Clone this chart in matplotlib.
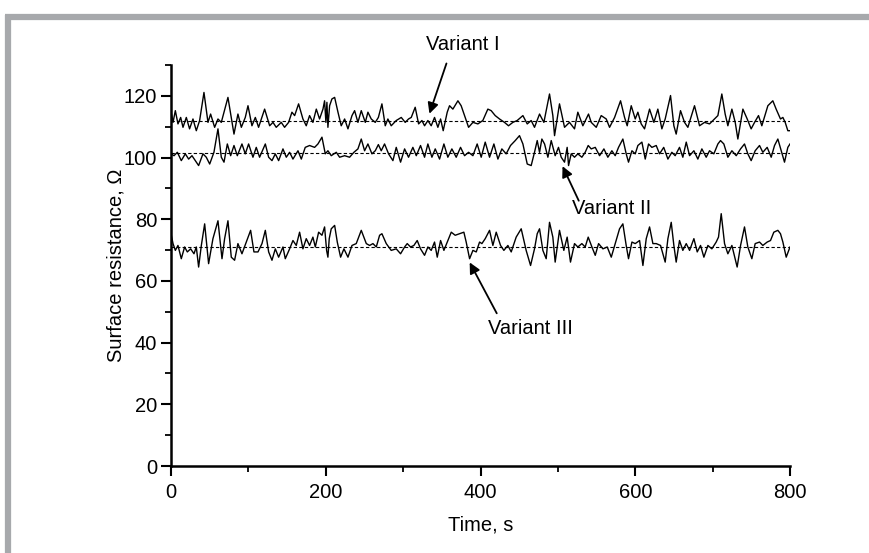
import numpy as np
import matplotlib
matplotlib.use("Agg")
import matplotlib.pyplot as plt
from matplotlib.lines import Line2D
from matplotlib.ticker import MultipleLocator

plt.rcParams['font.family'] = ['Liberation Sans', 'DejaVu Sans']

# ---- data (time s, resistance Ohm) ----
variant1 = [(0,115),(2.6,111.4),(5.6,115.2),(9,110.9),(12.5,113),(15.5,109.8),(19.8,113),(24,109.3),(28.4,112.5),(32.7,108.7),(37,112),(42.6,121.1),(47.8,111.4),(51.2,114.1),(56.4,109.8),(60.7,112.5),(65,111.4),(73.6,119.5),(81.4,107.6),(86.5,114.1),(90.9,109.8),(96,113),(99.5,116.8),(104.6,110.3),(109,113),(113.2,109.8),(121,115.7),(127.5,110.3),(131.8,111.4),(136,109.8),(142.5,111.4),(146.8,109.8),(152,111.4),(156.3,114.7),(159.8,113.6),(164.9,117.4),(170.5,112.5),(174.8,110.3),(179.1,113.6),(183.4,111.4),(187.8,115.7),(192,112.5),(196.4,115.7),(198.5,118.4),(200.2,111.4),(201.5,117.9),(202.8,109.8),(205,116.8),(208,119),(211.5,119.5),(215.8,114.7),(220,110.3),(224.4,112.5),(228.7,109.3),(233.9,113.6),(237.3,115.2),(241.6,111.4),(245.9,115.2),(251.1,111.4),(254.5,114.7),(258.8,112.5),(264,111.4),(268,113),(272.6,117.4),(276.9,110.3),(280.3,112.5),(284.6,110.3),(291.1,112),(297.6,113),(302.7,111.4),(307,112.5),(310.5,113),(315.6,116.3),(320,110.9),(324.3,112),(327.7,110.3),(332,112),(336.3,110.3),(340.6,113),(344.9,109.8),(348.4,112.5),(351.8,108.7),(357,114.7),(360,116.8),(364.3,115.7),(370.8,118.4),(375,116.8),(380.2,113),(384.6,109.8),(390.2,111.4),(396.6,110.9),(403,112),(409.5,115.7),(413.8,115.2),(419,113.6),(424.6,112.5),(431,111.4),(436.2,110.3),(441.8,111.4),(447.4,112),(454.8,113.6),(460.4,110.9),(465.5,112),(469.8,109.8),(476.3,114.1),(481.9,111.4),(489.2,120.6),(493.5,113.6),(495.7,107.1),(502.1,117.4),(508.6,109.8),(515,111.4),(521.5,109.3),(525.8,114.7),(532.3,110.3),(539.6,114.1),(543.1,111.4),(549.6,109.8),(556,113.6),(562.5,112.5),(566.8,109.8),(573.3,113),(581,118.4),(586.2,113),(589.6,110.3),(594.8,116.8),(600,112.5),(603.4,114.7),(607.7,110.9),(612,109.3),(618.5,115.7),(624.1,111.4),(629.2,115.7),(634.4,109.3),(638.7,112.5),(645.6,120.1),(649.9,110.3),(652.9,107.6),(658.5,115.2),(663.7,111.4),(668,109.8),(676.6,116.8),(683.1,110.3),(689.5,111.4),(696,110.9),(702.5,112.5),(706.8,113.6),(711.9,120.6),(716.2,114.1),(719.7,110.3),(724.9,115.7),(729.2,111.4),(732.6,106),(739.1,115.7),(744.7,112.5),(749.8,109.3),(754.2,111.4),(759.3,113.6),(763.6,110.3),(771.4,116.8),(777.8,118.4),(782.1,115.7),(787.7,112.5),(790.8,113),(793.8,111.4),(797.2,108.7),(800,108.7)]

variant2 = [(0,101.2),(3.9,100.6),(8.2,101.7),(13.3,99),(18.5,101.2),(22.8,99.5),(27.1,100.6),(31.4,99),(35.7,97.4),(41.3,101.2),(45.6,100.1),(50,97.9),(55.5,101.7),(60.7,109.3),(65,100.1),(68.5,98.5),(72.8,104.4),(77.1,100.6),(81.4,103.9),(85.7,100.6),(91.7,104.4),(96,101.2),(100.3,104.4),(105.9,100.1),(110.2,103.3),(114.5,100.1),(121.9,104.4),(126.2,100.1),(130.5,99),(134.8,101.2),(139.1,99),(144.7,102.8),(149,100.1),(153.3,101.7),(157.6,99.5),(164.1,102.2),(168.4,99.5),(173.5,103.3),(179.1,103.9),(185.6,103.3),(189.9,104.4),(195.1,106.6),(199.4,101.2),(202.8,102.2),(207.1,100.6),(213.6,101.7),(217.9,100.1),(224.4,100.6),(230.8,100.1),(236.4,101.7),(241.6,102.8),(245.9,106),(250.2,102.2),(254.5,104.4),(259.7,101.2),(264,102.2),(268,104.2),(271.7,102.2),(276,104.4),(281.2,101.2),(286.8,99),(291.1,103.3),(296.7,98.5),(301.9,102.8),(307,100.1),(312.6,103.3),(317,100.6),(322.5,103.9),(327.7,100.1),(332,104.4),(337.2,100.1),(341.5,102.8),(347.1,99.5),(352.7,104.4),(357.8,100.1),(363,102.8),(368.6,100.1),(374.2,103.3),(379.4,100.6),(384.6,101.7),(390.2,100.6),(395.7,104.4),(400.9,100.1),(406.1,105),(411.7,100.1),(417.3,104.4),(422.5,99.5),(427.6,102.8),(433.2,101.2),(438.8,103.9),(444.9,105.5),(450.4,107.1),(454.8,104.4),(460.4,97.9),(465.5,97.4),(469.8,101.7),(473.3,105.5),(476.3,101.7),(479.3,106),(482.8,104.4),(487.1,100.1),(491.4,105.5),(496.5,100.6),(500.8,103.3),(504.3,100.1),(508.6,98.5),(512,103.3),(513.8,97.4),(517.2,101.2),(521.5,100.1),(525.8,101.2),(531,100.1),(535.3,101.7),(539.2,103.9),(543.1,102.8),(548.3,103.3),(553.9,100.6),(559.5,102.8),(564.6,100.1),(569.8,102.2),(574.1,100.6),(578.4,103.3),(584,106),(588.3,101.2),(591.3,98.5),(595.7,102.2),(600,101.2),(603.4,103.9),(608.6,105),(612.9,99.5),(617.2,104.4),(621.5,103.3),(627.1,103.9),(631.4,101.2),(636.8,103.3),(642.2,99.5),(647.3,101.7),(651.6,100.6),(657.2,103.3),(661.5,100.1),(665.9,105),(670.2,100.6),(675.8,102.2),(680.9,99.5),(686.1,102.8),(691.7,100.1),(696,102.2),(701.6,101.2),(706.8,104.4),(710.2,105.5),(714.5,104.4),(719.7,100.1),(724.9,102.2),(730.5,100.6),(736.1,102.8),(741.2,104.4),(745.5,101.2),(749.8,99),(755,102.2),(760.6,103.9),(764.9,101.7),(770.5,103.3),(775.7,100.1),(780,103.9),(784.3,106),(788.6,102.2),(792.9,98.5),(797.2,103.3),(800,104.4)]

variant3 = [(0,75.3),(2.6,72.1),(5.6,69.9),(9,71.5),(13.3,67.2),(17.6,71),(21.1,69.4),(25.4,70.4),(29.7,68.8),(32.7,71),(35.7,64.5),(39.2,71.5),(43.5,78.5),(48.6,65.6),(54.2,73.7),(60.7,79.5),(65.9,67.2),(69.3,73.7),(73.6,79.5),(77.9,67.7),(82.2,66.7),(86.5,72.1),(91.7,68.8),(97.3,72.6),(102.9,76.4),(107.2,69.4),(112.4,69.4),(117.6,72.1),(121.9,76.4),(126.2,69.4),(130.5,66.7),(134.8,70.4),(139.1,67.7),(144.7,71),(147.7,67.2),(153.3,70.4),(157.6,73.1),(161.9,71.5),(166.2,75.8),(170.5,70.4),(174.8,73.7),(179.1,71.5),(183.4,74.2),(186.5,71),(190.8,75.8),(195.1,74.8),(198.5,77.5),(201.1,69.9),(202.8,67.7),(204.5,73.7),(207.1,76.9),(211.5,78),(214.9,72.6),(219.2,67.7),(223.5,70.4),(228.7,67.7),(233.9,71.5),(239.4,72.1),(245.9,76.4),(252.4,72.1),(256.7,71.5),(261,72.1),(265.3,71),(269.6,74.8),(272.6,75.3),(278.2,72.1),(284.6,69.9),(291.1,70.4),(296.7,68.8),(301.9,71),(305.3,72.1),(309.6,71),(313.9,71.5),(318.2,73.1),(322.5,70.4),(327.7,68.3),(332,71),(336.3,69.9),(340.6,72.6),(344.1,67.7),(348.4,73.1),(352.7,69.9),(357.8,73.1),(362.2,75.8),(367.3,74.8),(372.9,75.3),(378.5,75.8),(381.5,72.6),(385.9,67.2),(390.2,69.9),(394.5,69.4),(398.8,72.6),(401.8,72.1),(406.1,73.7),(411.7,76.4),(416,71.5),(420.3,75.8),(425.9,71.5),(430.2,69.9),(435.4,71.5),(439.7,69.4),(446.1,74.2),(452.6,76.9),(459,69.9),(464.7,65),(469.8,70.4),(473.3,75.3),(476.3,76.9),(480.6,69.9),(484.9,67.2),(489.2,79),(493.5,74.2),(496.5,66.1),(502.1,76.4),(507.7,69.9),(512,74.2),(516.3,66.1),(521.5,72.1),(525.8,71),(531,72.1),(535.3,71),(539.2,74.2),(544,71),(548.3,68.3),(552.6,72.1),(558.2,70.4),(563.8,71),(569,67.7),(574.1,72.1),(579.7,76.9),(584,78.5),(588.3,71.5),(591.3,67.2),(595.7,72.6),(600,72.1),(605.6,73.1),(609.9,65),(614.2,73.7),(618.5,77.5),(622.8,72.1),(627.1,72.1),(632.7,71.5),(638.7,66.1),(642.2,73.7),(646.5,79),(649.9,71.5),(652.9,66.1),(657.2,73.1),(661.5,69.9),(665.9,72.1),(670.2,69.9),(675.8,73.7),(680.1,69.4),(684.4,71.5),(688.7,67.7),(693.9,71.5),(699,70.4),(704.6,72.6),(707.6,74.2),(711.1,81.8),(715.4,72.1),(719.7,68.8),(724.9,71.5),(731.7,64.5),(736.1,71.5),(741.2,77.5),(745.5,71),(750.7,67.2),(755,72.1),(760.6,72.6),(764.9,71.5),(770.5,72.6),(774.8,73.1),(779.1,75.8),(784.3,76.4),(787.7,75.3),(790.8,72.6),(795.1,67.7),(800,71)]

mean_levels = [112, 101.5, 71]
labels = ["Variant I", "Variant II", "Variant III"]
x_ticks = [0, 200, 400, 600, 800]
y_ticks = [0, 20, 40, 60, 80, 100, 120]

# ---- figure ----
W, H = 869, 553
FS = 14.5
fig = plt.figure(figsize=(W / 100, H / 100), dpi=100)
ax = fig.add_axes([171 / W, 1 - 466 / H, (790 - 171) / W, (466 - 65) / H])

for series, m in zip([variant1, variant2, variant3], mean_levels):
    arr = np.array(series)
    ax.plot(arr[:, 0], arr[:, 1], color='black', lw=1.0)
    ax.plot([0, 800], [m, m], color='black', lw=0.8, ls=(0, (3, 2)))

ax.set_xlim(0, 800)
ax.set_ylim(0, 130)
ax.set_xticks(x_ticks)
ax.set_yticks(y_ticks)
ax.xaxis.set_minor_locator(MultipleLocator(100))
ax.yaxis.set_minor_locator(MultipleLocator(10))
for s in ['top', 'right']:
    ax.spines[s].set_visible(False)
for s in ['left', 'bottom']:
    ax.spines[s].set_linewidth(1.8)
ax.tick_params(which='major', direction='out', length=7, width=1.5, labelsize=FS, pad=5)
ax.tick_params(axis='y', which='major', pad=3)
ax.tick_params(which='minor', direction='out', length=4, width=1.3)

ax.set_xlabel("Time, s", fontsize=FS, labelpad=10)
ax.set_ylabel("Surface resistance, \u03a9", fontsize=FS)
ax.yaxis.set_label_coords((126 - 171) / 619, 0.5)

arrow = dict(arrowstyle='-|>', color='black', lw=1.3, mutation_scale=16, shrinkA=0, shrinkB=0)
ax.text(377, 136.5, labels[0], ha='center', va='center', fontsize=FS, clip_on=False)
ax.annotate("", xy=(334, 114.2), xytext=(356, 130.5), arrowprops=arrow, annotation_clip=False)
ax.text(569, 83.5, labels[1], ha='center', va='center', fontsize=FS)
ax.annotate("", xy=(506, 97.2), xytext=(527, 86), arrowprops=arrow)
ax.text(465, 44.7, labels[2], ha='center', va='center', fontsize=FS)
ax.annotate("", xy=(386, 66), xytext=(421, 49.5), arrowprops=arrow)

# gray frame
gray = '#a7a9ac'
fig.add_artist(Line2D([5 / W, 1], [1 - 17 / H, 1 - 17 / H], color=gray, lw=4.5,
                      transform=fig.transFigure, solid_capstyle='butt'))
fig.add_artist(Line2D([8 / W, 8 / W], [1 - 14.8 / H, 0], color=gray, lw=4.5,
                      transform=fig.transFigure, solid_capstyle='butt'))

fig.savefig("out.png", dpi=100)
